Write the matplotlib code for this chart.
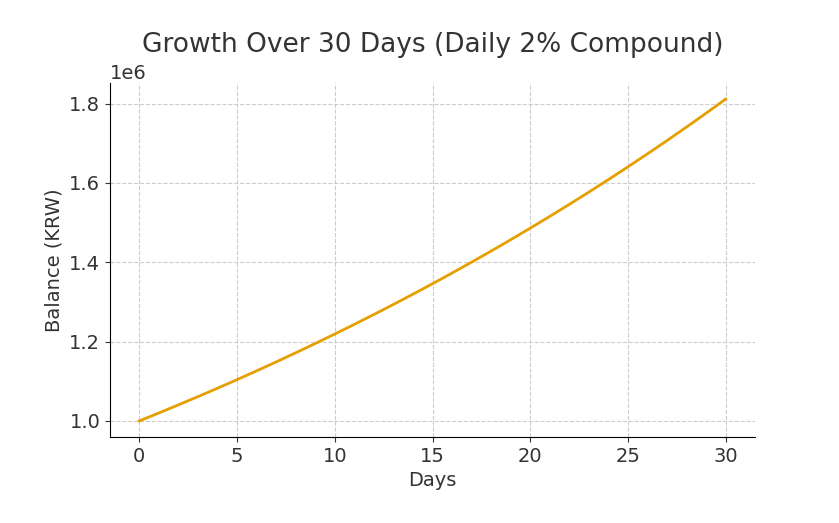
import matplotlib
matplotlib.use("Agg")
import matplotlib.pyplot as plt

days = list(range(31))
balance = [1000000, 1020000, 1040400, 1061208, 1082432, 1104081, 1126162, 1148686,
           1171659, 1195093, 1218994, 1243374, 1268242, 1293607, 1319479, 1345868,
           1372786, 1400241, 1428246, 1456811, 1485947, 1515666, 1545980, 1576899,
           1608437, 1640606, 1673418, 1706886, 1741024, 1775845, 1811362]

fig = plt.figure(figsize=(8.39, 5.23), dpi=100)
ax = fig.add_axes([110/839, 1-437/523, 645/839, 354/523])
ax.plot(days, balance, color="#E69F00", lw=2)
ax.set_title("Growth Over 30 Days (Daily 2% Compound)", fontsize=19, color="#333333", pad=22)
ax.set_xlabel("Days", fontsize=14, color="#333333")
ax.set_ylabel("Balance (KRW)", fontsize=14, color="#333333")
ax.tick_params(labelsize=14, colors="#333333")
ax.yaxis.get_offset_text().set_fontsize(14)
ax.grid(True, linestyle="--", color="#cccccc", linewidth=0.8)
ax.spines["top"].set_visible(False)
ax.spines["right"].set_visible(False)
ax.set_yticks([1.0e6, 1.2e6, 1.4e6, 1.6e6, 1.8e6])
fig.savefig("out.png", dpi=100)
